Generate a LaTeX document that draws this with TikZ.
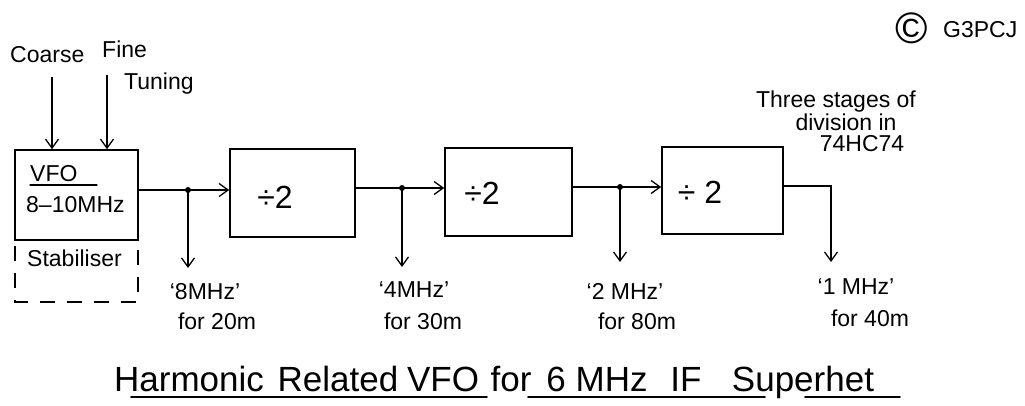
\documentclass[tikz,border=0pt]{standalone}
\usepackage{fontspec}
\setmainfont{Liberation Sans}
\usetikzlibrary{arrows.meta}
\begin{document}
\begin{tikzpicture}[x=1pt,y=-1pt,
  blk/.style={draw,line width=1.6pt,inner sep=0pt},
  wire/.style={line width=1.3pt},
  arr/.style={line width=1.3pt,-{Straight Barb[length=9pt,width=13pt,line width=1.3pt]}},
  dotj/.style={circle,fill,inner sep=0pt,minimum size=6pt},
  lbl/.style={font=\fontsize{23}{25}\selectfont,inner sep=0pt,anchor=base},
  divl/.style={font=\fontsize{32}{34}\selectfont,inner sep=0pt,anchor=base},
  ttl/.style={font=\fontsize{35}{38}\selectfont,inner sep=0pt,anchor=base},
  uline/.style={line width=1.8pt,line cap=round}]
\useasboundingbox (0,0) rectangle (1025,405);
% boxes
\node[blk,minimum width=123pt,minimum height=90pt] (vfo) at (76.5,195) {};
\node[blk,minimum width=125pt,minimum height=88pt] (b2) at (292.5,193) {};
\node[blk,minimum width=127pt,minimum height=88pt] (b3) at (508.5,192) {};
\node[blk,minimum width=121pt,minimum height=87pt] (b4) at (722.5,190.5) {};
% box texts
\node[lbl,anchor=base west] (vfot) at (30,181) {VFO};
\draw[uline,line width=1.3pt] (30,185) -- (97,185);
\node[lbl,anchor=base west] (vfof) at (26,212) {8–10MHz};
\node[divl] (d2) at (275,208) {÷2};
\node[divl] (d3) at (482,204) {÷2};
\node[divl] (d4) at (700,203) {÷ 2};
% tuning
\node[lbl,anchor=base west] (coarse) at (10,62) {Coarse};
\node[lbl,anchor=base west] (fine) at (102,57) {Fine};
\node[lbl,anchor=base west] (tuning) at (124,89) {Tuning};
\coordinate (ca) at (52,77);
\coordinate (fa) at (107,75);
\draw[arr] (ca) -- (ca |- vfo.north);
\draw[arr] (fa) -- (fa |- vfo.north);
% stabiliser
\node[lbl,anchor=base west] (stab) at (27,266) {Stabiliser};
\coordinate (s1) at (15,240);
\coordinate (s2) at (15,302);
\coordinate (s3) at (138,302);
\coordinate (s4) at (138,240);
\draw[line width=1.4pt,dash pattern=on 15pt off 12pt,dash phase=-6pt] (s1) -- (s2) -- (s3) -- (s4);
% junctions
\coordinate (j1) at (188,190);
\coordinate (j2) at (402,188);
\coordinate (j3) at (620,187);
\coordinate (jo) at (831,186);
\node[dotj] (dj1) at (j1) {};
\node[dotj] (dj2) at (j2) {};
\node[dotj] (dj3) at (j3) {};
\draw[wire] (vfo.east |- j1) -- (j1);
\draw[arr] (j1) -- (b2.west |- j1);
\draw[wire] (b2.east |- j2) -- (j2);
\draw[arr] (j2) -- (b3.west |- j2);
\draw[wire] (b3.east |- j3) -- (j3);
\draw[arr] (j3) -- (b4.west |- j3);
\coordinate (t1) at (188,268);
\coordinate (t2) at (402,267);
\coordinate (t3) at (620,262);
\coordinate (t4) at (831,262);
\draw[arr] (j1) -- (t1);
\draw[arr] (j2) -- (t2);
\draw[arr] (j3) -- (t3);
\draw[arr] (b4.east |- jo) -- (jo) -- (t4);
% output labels
\node[lbl] (l1a) at (205,299) {‘8MHz’};
\node[lbl] (l1b) at (217,329) {for 20m};
\node[lbl] (l2a) at (414,297) {‘4MHz’};
\node[lbl] (l2b) at (423,329) {for 30m};
\node[lbl] (l3a) at (625,299) {‘2 MHz’};
\node[lbl] (l3b) at (637,329) {for 80m};
\node[lbl] (l4a) at (856,294) {‘1 MHz’};
\node[lbl] (l4b) at (870,326) {for 40m};
% note
\node[lbl] (n1) at (836,107) {Three stages of};
\node[lbl] (n2) at (846,130) {division in};
\node[lbl] (n3) at (862,151) {74HC74};
% copyright
\node[font=\fontsize{44}{44}\selectfont,inner sep=0pt] (copy) at (912,28) {©};
\node[lbl,anchor=base west] (g3) at (943,37) {G3PCJ};
% title
\node[ttl] (w1) at (189,391) {Harmonic};
\node[ttl] (w2) at (338,391) {Related};
\node[ttl] (w3) at (443,391) {VFO};
\node[ttl] (w4) at (511,391) {for};
\node[ttl] (w5) at (597,391) {6 MHz};
\node[ttl] (w6) at (686,391) {IF};
\node[ttl] (w7) at (803,391) {Superhet};
\draw[uline] (131,397) -- (487,397);
\draw[uline] (528,397) -- (765,397);
\draw[uline] (805,397) -- (900,397);
\end{tikzpicture}
\end{document}
